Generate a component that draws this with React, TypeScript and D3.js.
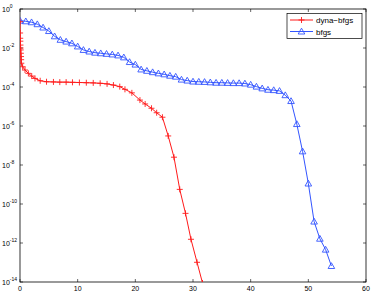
import React from "react";
import * as d3 from "d3";

const redX = [0, 0.02, 0.04, 0.06, 0.08, 0.1, 0.12, 0.15, 0.18, 0.2, 0.23, 0.46, 0.87, 1.45, 2.03, 2.6, 3.5, 4.6, 5.8, 6.9, 8, 9.1, 10.3, 11.5, 12.7, 13.9, 15.1, 16.2, 17.3, 18.2, 19.4, 20.8, 21.7, 22.8, 23.7, 24.7, 25.7, 26.7, 27.7, 28.7, 29.65, 30.7, 31.65];
const redLog = [-0.65, -1.23, -1.5, -1.65, -1.85, -2.0, -2.1, -2.27, -2.44, -2.6, -2.78, -2.96, -3.13, -3.3, -3.44, -3.56, -3.68, -3.73, -3.74, -3.75, -3.75, -3.76, -3.77, -3.78, -3.79, -3.81, -3.84, -3.9, -3.98, -4.12, -4.3, -4.67, -4.87, -5.09, -5.32, -5.55, -6.51, -7.6, -9.25, -10.48, -11.81, -12.99, -14.05];

const blueLog = [-0.6, -0.63, -0.68, -0.78, -0.95, -1.13, -1.4, -1.58, -1.67, -1.76, -1.92, -2.1, -2.18, -2.24, -2.27, -2.3, -2.33, -2.38, -2.48, -2.72, -2.85, -3.1, -3.17, -3.24, -3.3, -3.35, -3.42, -3.47, -3.62, -3.67, -3.72, -3.73, -3.74, -3.76, -3.78, -3.78, -3.79, -3.8, -3.8, -3.82, -3.88, -3.98, -4.07, -4.14, -4.16, -4.2, -4.42, -4.72, -5.9, -7.3, -8.95, -10.9, -11.78, -12.34, -13.18];
const blueX = blueLog.map((_, i) => i);

const xTicks = [0, 10, 20, 30, 40, 50, 60];
const yTickExps = [0, -2, -4, -6, -8, -10, -12, -14];
const seriesNames = ["dyna\u2212bfgs", "bfgs"];

const RED = "#ff1a1a";
const BLUE = "#3355ff";

export default function App() {
  const W = 374, H = 292;
  const L = 20, R = 366, T = 9, B = 282;
  const x = d3.scaleLinear().domain([0, 60]).range([L, R]);
  const y = d3.scaleLinear().domain([0, -14]).range([T, B]);
  const redPts = redX.map((v, i) => [v, redLog[i]] as [number, number]);
  const bluePts = blueX.map((v, i) => [v, blueLog[i]] as [number, number]);
  const line = d3.line<[number, number]>().x(d => x(d[0])).y(d => y(d[1]));
  const font = "Liberation Sans, Arial, sans-serif";
  const tri = (cx: number, cy: number) => `M${cx},${cy - 3.3}L${cx + 3.3},${cy + 2.5}L${cx - 3.3},${cy + 2.5}Z`;
  return (
    <svg width={W} height={H} style={{ position: "absolute", left: 0, top: 0 }}>
      <rect x={0} y={0} width={W} height={H} fill="#fff" />
      <defs>
        <clipPath id="clp"><rect x={L} y={T - 4} width={R - L} height={B - T + 4} /></clipPath>
      </defs>
      {xTicks.map(t => (
        <g key={"x" + t}>
          <line x1={x(t)} x2={x(t)} y1={B} y2={B - 3} stroke="#000" strokeWidth={0.6} />
          <line x1={x(t)} x2={x(t)} y1={T} y2={T + 3} stroke="#000" strokeWidth={0.6} />
          <text x={x(t)} y={291} fontSize={7} fontFamily={font} textAnchor="middle" fill="#000">{t}</text>
        </g>
      ))}
      {yTickExps.map(e => (
        <g key={"y" + e}>
          <line x1={L} x2={L + 3} y1={y(e)} y2={y(e)} stroke="#000" strokeWidth={0.6} />
          <line x1={R} x2={R - 3} y1={y(e)} y2={y(e)} stroke="#000" strokeWidth={0.6} />
          <text x={2} y={y(e) + 2.5} fontSize={7} fontFamily={font} fill="#000">
            10<tspan fontSize={5} dy={-3.5}>{e}</tspan>
          </text>
        </g>
      ))}
      <rect x={L} y={T} width={R - L} height={B - T} fill="none" stroke="#000" strokeWidth={0.8} />
      <g clipPath="url(#clp)">
        <path d={line(bluePts) || ""} fill="none" stroke={BLUE} strokeWidth={1} />
        {bluePts.map((p, i) => (
          <path key={"b" + i} d={tri(x(p[0]), y(p[1]))} fill="none" stroke={BLUE} strokeWidth={0.9} />
        ))}
        <path d={line(redPts) || ""} fill="none" stroke={RED} strokeWidth={1} />
        {redPts.map((p, i) => (
          <g key={"r" + i} stroke={RED} strokeWidth={0.9}>
            <line x1={x(p[0]) - 3} x2={x(p[0]) + 3} y1={y(p[1])} y2={y(p[1])} />
            <line x1={x(p[0])} x2={x(p[0])} y1={y(p[1]) - 3} y2={y(p[1]) + 3} />
          </g>
        ))}
      </g>
      <g>
        <rect x={287} y={13.5} width={75} height={25} fill="#fff" stroke="#000" strokeWidth={0.7} />
        <line x1={290} x2={313} y1={20} y2={20} stroke={RED} strokeWidth={1} />
        <line x1={301.5 - 3} x2={301.5 + 3} y1={20} y2={20} stroke={RED} strokeWidth={0.9} />
        <line x1={301.5} x2={301.5} y1={17} y2={23} stroke={RED} strokeWidth={0.9} />
        <text x={316} y={23} fontSize={8} fontFamily={font} fill="#000">{seriesNames[0]}</text>
        <line x1={290} x2={313} y1={31.5} y2={31.5} stroke={BLUE} strokeWidth={1} />
        <path d={tri(301.5, 31.5)} fill="none" stroke={BLUE} strokeWidth={0.9} />
        <text x={316} y={34.5} fontSize={8} fontFamily={font} fill="#000">{seriesNames[1]}</text>
      </g>
    </svg>
  );
}
